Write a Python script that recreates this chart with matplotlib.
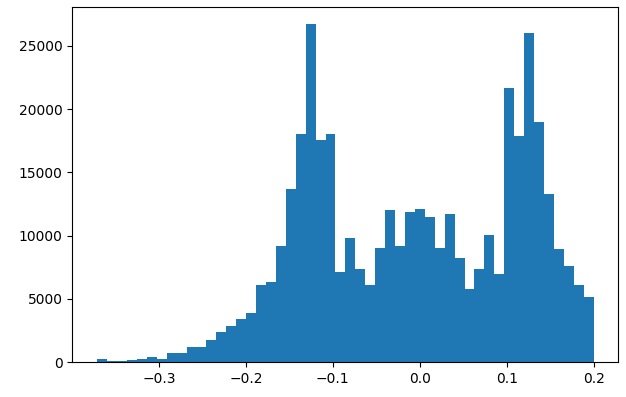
import numpy as np
from matplotlib import pyplot as plt

# histogram range and bin count
x_min, x_max = -0.371, 0.2
n_bins = 50

counts = [285, 130, 130, 150, 285, 440, 285, 710, 710, 1210,
          1210, 1740, 2370, 2890, 3400, 3900, 6080, 6370, 9160, 13690,
          18060, 26700, 17540, 18060, 7130, 9800, 7370, 6080, 9060, 12010,
          9160, 11870, 12130, 11500, 9060, 11740, 8260, 5810, 7370, 10080,
          7000, 21650, 17900, 26040, 18960, 13300, 8930, 7630, 6080, 5180]

edges = np.linspace(x_min, x_max, n_bins + 1)
centers = (edges[:-1] + edges[1:]) / 2

fig = plt.figure(figsize=(6.26, 3.97), dpi=100)
ax = fig.add_axes([0.1155, 0.0874, 0.8725, 0.8942])
ax.hist(centers, bins=edges, weights=counts)

plt.savefig("out.png")
